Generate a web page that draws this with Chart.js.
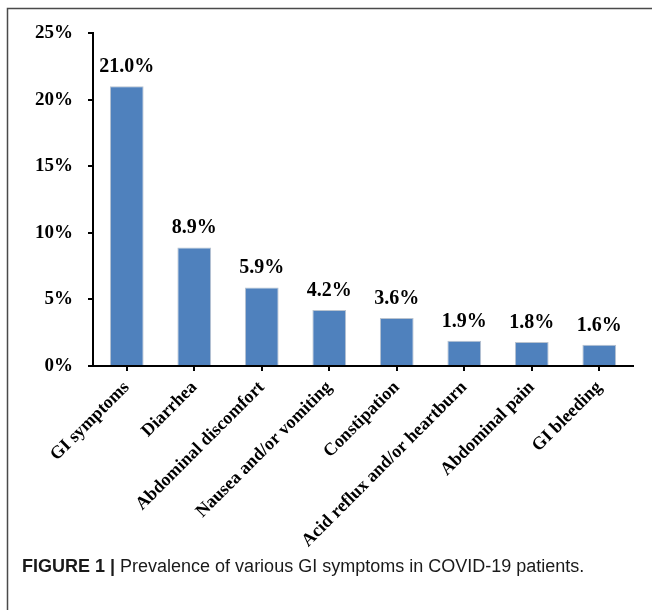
<!DOCTYPE html>
<html>
<head>
<meta charset="utf-8">
<script src="https://cdn.jsdelivr.net/npm/chart.js@4/dist/chart.umd.min.js"></script>
<style>
  html, body { margin: 0; padding: 0; background: #ffffff; }
  #wrap { position: relative; width: 652px; height: 610px; }
</style>
</head>
<body>
<div id="wrap"><canvas id="chart" width="652" height="610"></canvas></div>
<script>
// GI symptom prevalence (%)
const symptoms = [
  'GI symptoms',
  'Diarrhea',
  'Abdominal discomfort',
  'Nausea and/or vomiting',
  'Constipation',
  'Acid reflux and/or heartburn',
  'Abdominal pain',
  'GI bleeding'
];
const prevalence = [21.0, 8.9, 5.9, 4.2, 3.6, 1.9, 1.8, 1.6];
const yTicks = [0, 5, 10, 15, 20, 25];
const captionBold = 'FIGURE 1 | ';
const captionText = 'Prevalence of various GI symptoms in COVID-19 patients.';

const serif = '"Liberation Serif", "Times New Roman", serif';

// value labels above each bar
const valueLabels = {
  id: 'valueLabels',
  afterDatasetsDraw(chart) {
    const ctx = chart.ctx;
    const meta = chart.getDatasetMeta(0);
    ctx.save();
    ctx.font = 'bold 20px ' + serif;
    ctx.fillStyle = '#000';
    ctx.textAlign = 'center';
    ctx.textBaseline = 'alphabetic';
    meta.data.forEach((bar, i) => {
      ctx.fillText(prevalence[i].toFixed(1) + '%', bar.x, bar.y - 14);
    });
    ctx.restore();
  }
};

// outer frame and figure caption
const figureFrame = {
  id: 'figureFrame',
  afterDraw(chart) {
    const ctx = chart.ctx;
    ctx.save();
    ctx.strokeStyle = '#4a4a4a';
    ctx.lineWidth = 1.5;
    ctx.beginPath();
    ctx.moveTo(7.5, 610);
    ctx.lineTo(7.5, 8.5);
    ctx.lineTo(652, 8.5);
    ctx.stroke();

    ctx.fillStyle = '#1a1a1a';
    ctx.textBaseline = 'alphabetic';
    ctx.textAlign = 'left';
    ctx.font = 'bold 18px "Liberation Sans", Arial, sans-serif';
    const x0 = 22, y0 = 572;
    ctx.fillText(captionBold, x0, y0);
    const w = ctx.measureText(captionBold).width;
    ctx.font = '18px "Liberation Sans", Arial, sans-serif';
    ctx.fillText(captionText, x0 + w, y0);
    ctx.restore();
  }
};

new Chart(document.getElementById('chart'), {
  type: 'bar',
  data: {
    labels: symptoms,
    datasets: [{
      data: prevalence,
      backgroundColor: '#4f81bd',
      borderColor: '#b9c3cf',
      borderWidth: 1,
      barPercentage: 0.5,
      categoryPercentage: 1.0
    }]
  },
  options: {
    responsive: false,
    animation: false,
    events: [],
    layout: { padding: { left: 0, top: 33, right: 19, bottom: 0 } },
    plugins: {
      legend: { display: false },
      tooltip: { enabled: false },
      title: { display: false }
    },
    scales: {
      x: {
        afterFit(scale) { scale.height = 244; },
        border: { color: '#000', width: 2 },
        grid: {
          offset: false,
          drawOnChartArea: false,
          tickLength: 5,
          color: '#000',
          lineWidth: 2
        },
        ticks: {
          autoSkip: false,
          maxRotation: 45,
          minRotation: 45,
          padding: 6,
          color: '#000',
          font: { family: serif, size: 18, weight: 'bold' }
        }
      },
      y: {
        min: 0,
        max: 25,
        afterFit(scale) { scale.width = 93; },
        afterBuildTicks(scale) { scale.ticks = yTicks.map(v => ({ value: v })); },
        border: { color: '#000', width: 2 },
        grid: {
          drawOnChartArea: false,
          tickLength: 5,
          color: '#000',
          lineWidth: 2
        },
        ticks: {
          padding: 15,
          color: '#000',
          font: { family: serif, size: 19, weight: 'bold' },
          callback: v => v + '%'
        }
      }
    }
  },
  plugins: [valueLabels, figureFrame]
});
</script>
</body>
</html>
